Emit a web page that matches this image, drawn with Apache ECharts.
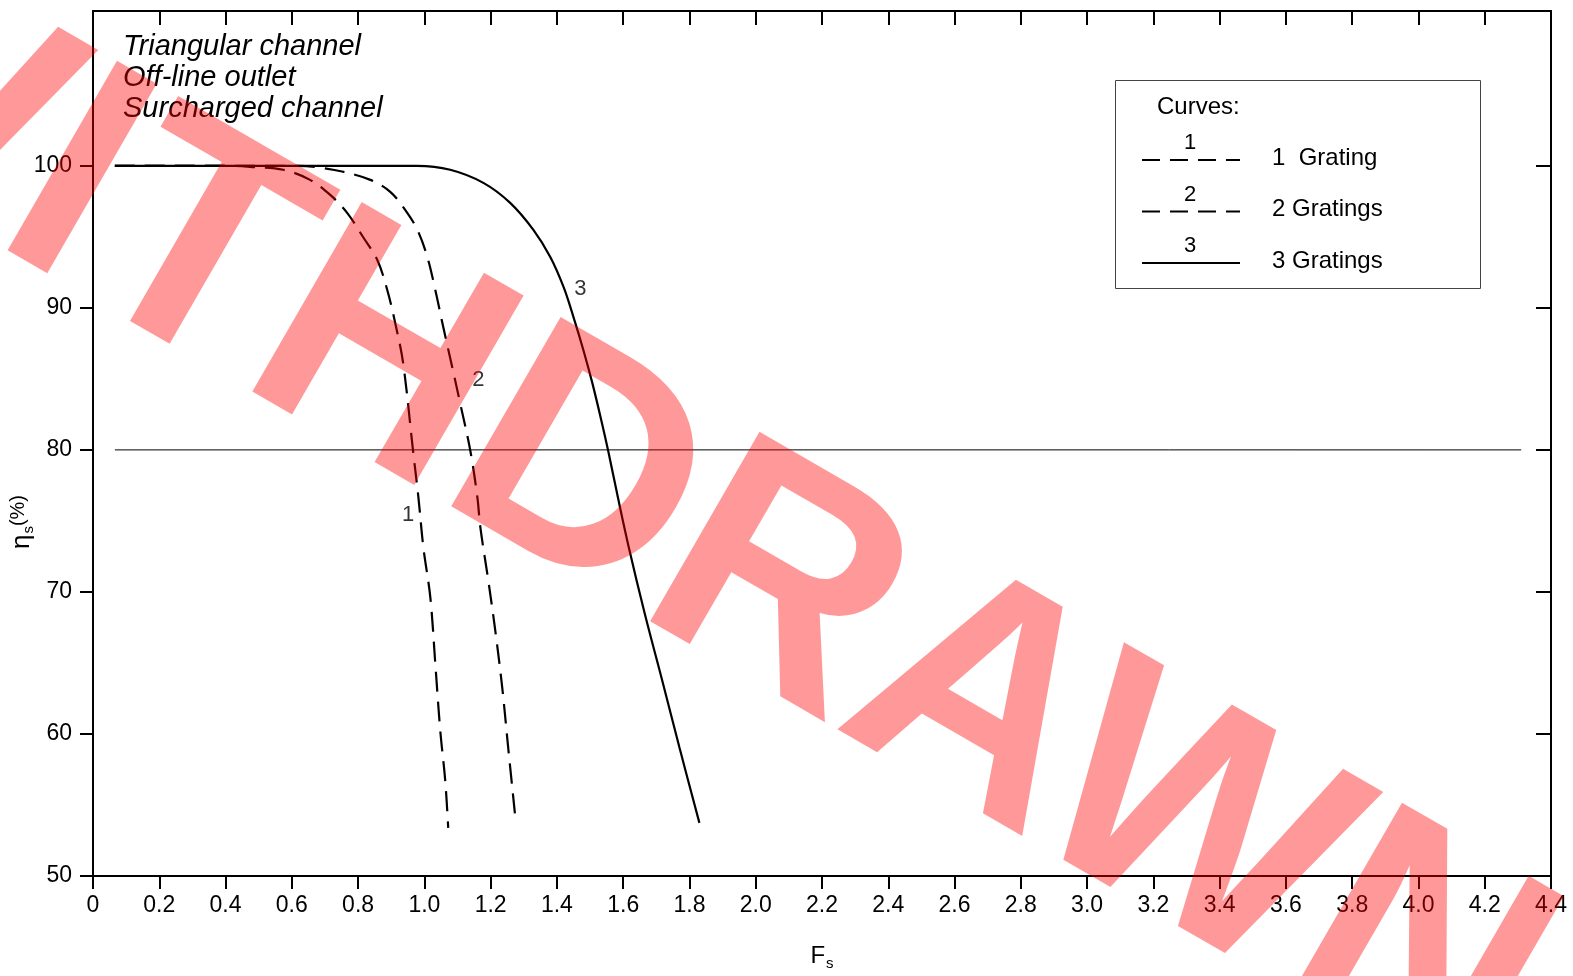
<!DOCTYPE html>
<html>
<head>
<meta charset="utf-8">
<script src="https://cdn.jsdelivr.net/npm/echarts@6/dist/echarts.min.js"></script>
<style>
html,body{margin:0;padding:0;background:#fff;}
#main{width:1573px;height:976px;}
</style>
</head>
<body>
<div id="main"></div>
<script>
// ---- data ----
const xTicks = [0,0.2,0.4,0.6,0.8,1.0,1.2,1.4,1.6,1.8,2.0,2.2,2.4,2.6,2.8,3.0,3.2,3.4,3.6,3.8,4.0,4.2,4.4];
const yTicks = [50,60,70,80,90,100];
const curve1 = [[0.066,100],[0.40,100],[0.474,99.93],[0.574,99.72],[0.655,99.01],[0.716,97.95],[0.767,96.69],[0.815,94.99],[0.858,93.37],[0.888,91.26],[0.912,88.93],[0.936,86.11],[0.966,79.90],[0.982,76.66],[0.997,73.13],[1.018,69.61],[1.033,64.95],[1.048,60.23],[1.063,56.70],[1.072,53.39]];
const curve2 = [[0.066,100],[0.62,100],[0.677,99.9],[0.755,99.58],[0.837,99.01],[0.897,98.17],[0.942,96.90],[0.979,95.49],[1.009,93.58],[1.033,91.26],[1.057,88.65],[1.084,85.83],[1.108,83.29],[1.139,79.90],[1.160,76.66],[1.169,74.54],[1.193,70.80],[1.214,67.28],[1.235,63.26],[1.253,59.03],[1.275,54.02]];
const curve3 = [[0.066,100],[0.978,100],[1.078,99.72],[1.178,98.80],[1.259,97.39],[1.329,95.49],[1.380,93.58],[1.420,91.47],[1.450,89.35],[1.480,87.02],[1.507,84.70],[1.536,81.88],[1.555,79.90],[1.584,76.66],[1.617,73.13],[1.665,68.48],[1.718,63.75],[1.770,59.03],[1.830,53.74]];
const refLine = [[0.066,80],[4.31,80]];
const curveLabels = [[0.951,75.4,'1'],[1.163,84.9,'2'],[1.471,91.3,'3']];
const notes = ['Triangular channel','Off-line outlet','Surcharged channel'];
const legendItems = [['1','1  Grating','dash'],['2','2 Gratings','dash'],['3','3 Gratings','solid']];

const FONT = '"Liberation Sans", Arial, Helvetica, sans-serif';
const chart = echarts.init(document.getElementById('main'));

const g = [];
g.push({type:'rect', left:1115, top:80, shape:{width:365,height:208}, style:{fill:'#fff',stroke:'#444',lineWidth:1}, z:10});
g.push({type:'text', x:1157, y:107, style:{text:'Curves:', font:'24px '+FONT, fill:'#000', textVerticalAlign:'middle'}, z:11});
legendItems.forEach((it,i)=>{
  const ly = 160 + i*51.5;
  g.push({type:'line', shape:{x1:1142,y1:ly,x2:1240,y2:ly}, style:{stroke:'#000', lineWidth:2, lineDash: it[2]==='dash'?[18,10]:null}, z:11});
  g.push({type:'text', x:1190, y:ly-17, style:{text:it[0], font:'22px '+FONT, fill:'#000', textAlign:'center', textVerticalAlign:'middle'}, z:11});
  g.push({type:'text', x:1272, y:ly-2, style:{text:it[1], font:'24px '+FONT, fill:'#000', textVerticalAlign:'middle'}, z:11});
});
notes.forEach((t,i)=>{
  g.push({type:'text', x:123, y:47+i*31, style:{text:t, font:'italic 29px '+FONT, fill:'#000', textVerticalAlign:'middle'}, z:11});
});
// y-axis title
g.push({type:'text', x:22, y:522, rotation:Math.PI/2, style:{
  text:'{a|η}{b|s}{c|(%)}', textAlign:'center', textVerticalAlign:'middle',
  rich:{a:{fontSize:26,fontFamily:FONT,fill:'#000'}, b:{fontSize:15,fontFamily:FONT,fill:'#000',padding:[14,0,0,1]}, c:{fontSize:20,fontFamily:FONT,fill:'#000',padding:[0,0,8,0]}}
}, z:11});
// watermark
g.push({type:'text', x:645, y:517, rotation:-Math.PI/6, style:{text:'WITHDRAWN', font:'bold 318px '+FONT, fill:'rgba(255,0,0,0.4)', textAlign:'center', textVerticalAlign:'middle'}, z:100});

const axisLineStyle = {show:true, onZero:false, lineStyle:{color:'#000', width:2}};
const option = {
  animation:false,
  backgroundColor:'#fff',
  grid:{left:93, right:22, top:11, bottom:100, containLabel:false, outerBoundsMode:'none'},
  xAxis:[{
    type:'value', min:0, max:4.4, interval:0.2, position:'bottom',
    axisLine:axisLineStyle,
    axisTick:{show:true, inside:false, length:13, lineStyle:{color:'#000',width:2}},
    axisLabel:{margin:18, color:'#000', fontSize:23, fontFamily:FONT, formatter:v=> Math.abs(v)<1e-9?'0':v.toFixed(1)},
    splitLine:{show:false},
    name:'{a|F}{b|s}', nameLocation:'middle', nameGap:66,
    nameTextStyle:{color:'#000', rich:{a:{fontSize:24, fontFamily:FONT, color:'#000'}, b:{fontSize:15, fontFamily:FONT, color:'#000', padding:[14,0,0,1]}}}
  },{
    type:'value', min:0, max:4.4, interval:0.2, position:'top',
    axisLine:axisLineStyle,
    axisTick:{show:true, inside:true, length:14, lineStyle:{color:'#000',width:2}},
    axisLabel:{show:false}, splitLine:{show:false}
  }],
  yAxis:[{
    type:'value', min:50, max:110.9, position:'left',
    axisLine:axisLineStyle,
    axisTick:{show:true, inside:false, length:13, lineStyle:{color:'#000',width:2}, customValues:yTicks},
    axisLabel:{margin:21, color:'#000', fontSize:23, fontFamily:FONT, customValues:yTicks},
    splitLine:{show:false}
  },{
    type:'value', min:50, max:110.9, position:'right',
    axisLine:axisLineStyle,
    axisTick:{show:true, inside:true, length:15, lineStyle:{color:'#000',width:2}, customValues:yTicks},
    axisLabel:{show:false, customValues:yTicks}, splitLine:{show:false}
  }],
  graphic:g,
  series:[
    {type:'line', data:refLine, symbol:'none', lineStyle:{color:'#000', width:1}, z:2},
    {type:'line', data:curve1, symbol:'none', smooth:0.35, lineStyle:{color:'#000', width:2.2, type:[20,10]}, z:3},
    {type:'line', data:curve2, symbol:'none', smooth:0.35, lineStyle:{color:'#000', width:2.2, type:[20,10]}, z:3},
    {type:'line', data:curve3, symbol:'none', smooth:0.35, lineStyle:{color:'#000', width:2.2}, z:4},
    {type:'scatter', data:curveLabels, symbolSize:0, label:{show:true, position:'inside', formatter:p=>p.data[2], color:'#000', fontSize:22, fontFamily:FONT}, z:5}
  ]
};
chart.setOption(option);
</script>
</body>
</html>
